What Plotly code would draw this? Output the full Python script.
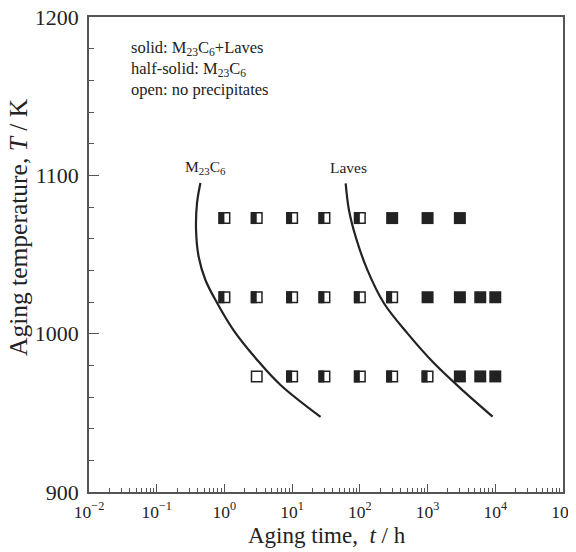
import plotly.graph_objects as go

# ---------------- data ----------------
T_1073, T_1023, T_973 = 1073, 1023, 973

solid_t = [300, 1000, 3000, 1000, 3000, 6000, 10000, 3000, 6000, 10000]
solid_T = [T_1073] * 3 + [T_1023] * 4 + [T_973] * 3

half_t = [1, 3, 10, 30, 100, 1, 3, 10, 30, 100, 300, 10, 30, 100, 300, 1000]
half_T = [T_1073] * 5 + [T_1023] * 6 + [T_973] * 5

open_t = [3]
open_T = [T_973]

m23_t = [0.442, 0.394, 0.381, 0.417, 0.524, 0.780, 1.36, 3.05, 6.74, 26.3]
m23_T = [1095.2, 1082.6, 1065.5, 1048.4, 1033.9, 1019.4, 1002.3, 983.4, 967.6, 947.4]

laves_t = [61.7, 69.0, 86.7, 129, 227, 505, 1248, 3467, 9120]
laves_T = [1094.9, 1078.1, 1061.2, 1040.3, 1019.2, 1000.2, 981.3, 963.4, 947.6]

x_exponents = [-2, -1, 0, 1, 2, 3, 4, 5]
x_tickvals = [10.0 ** e for e in x_exponents]
x_ticktext = ["10<sup>%s</sup>" % (str(e).replace("-", "\u2212")) for e in x_exponents]
x_minor = [m * 10.0 ** e for e in x_exponents[:-1] for m in range(2, 10)]

# ---------------- layout constants ----------------
OFF = 8  # page body margin of the html page
W, H = 576 - OFF, 552 - OFF
ML, MR, MT, MB = 89 - OFF, 13, 17 - OFF, 60
PW = W - ML - MR
PH = H - MT - MB
FONT = "Liberation Serif"
INK = "#222222"
AX = "#555555"

def px(x):  # screen pixel -> paper
    return (x - OFF - ML) / PW

def py(y):
    return (H - MB - (y - OFF)) / PH

XR = [-2, 5]
shift = 3.0 / PW * (XR[1] - XR[0])  # 3-pixel shift for the filled half

fig = go.Figure()

# curves
fig.add_trace(go.Scatter(x=m23_t, y=m23_T, mode="lines",
                         line=dict(color=INK, width=2.2, shape="spline", smoothing=1.0),
                         hoverinfo="skip", showlegend=False))
fig.add_trace(go.Scatter(x=laves_t, y=laves_T, mode="lines",
                         line=dict(color=INK, width=2.2, shape="spline", smoothing=1.0),
                         hoverinfo="skip", showlegend=False))

# solid markers
fig.add_trace(go.Scatter(x=solid_t, y=solid_T, mode="markers",
                         marker=dict(symbol="square", size=12, color=INK,
                                     line=dict(width=0)),
                         showlegend=False))
# half-solid base (white square w/ border)
fig.add_trace(go.Scatter(x=half_t, y=half_T, mode="markers",
                         marker=dict(symbol="square", size=10.5, color="white",
                                     line=dict(width=1.5, color=INK)),
                         showlegend=False))
# open
fig.add_trace(go.Scatter(x=open_t, y=open_T, mode="markers",
                         marker=dict(symbol="square", size=10.5, color="white",
                                     line=dict(width=1.5, color=INK)),
                         showlegend=False))
# filled left half of half-solid markers (on shifted overlay axis)
fig.add_trace(go.Scatter(x=half_t, y=half_T, mode="markers", xaxis="x2", yaxis="y",
                         marker=dict(symbol="line-ns", size=12 / 1.4,
                                     line=dict(width=6, color=INK)),
                         showlegend=False))

LEG_FS = 16.5
ann_list = []
for text, yy in [("solid: M<sub>23</sub>C<sub>6</sub>+Laves", 48),
                 ("half-solid: M<sub>23</sub>C<sub>6</sub>", 69),
                 ("open: no precipitates", 90)]:
    ann_list.append(dict(text=text, x=px(129), y=py(yy), xref="paper", yref="paper",
                         xanchor="left", yanchor="middle", showarrow=False,
                         font=dict(family=FONT, size=LEG_FS, color=INK)))
ann_list.append(dict(text="M<sub>23</sub>C<sub>6</sub>", x=px(205), y=py(167),
                     xref="paper", yref="paper", showarrow=False,
                     xanchor="center", yanchor="middle",
                     font=dict(family=FONT, size=15.5, color=INK)))
ann_list.append(dict(text="Laves", x=px(348), y=py(167),
                     xref="paper", yref="paper", showarrow=False,
                     xanchor="center", yanchor="middle",
                     font=dict(family=FONT, size=15.5, color=INK)))
ann_list.append(dict(text="Aging time,  <i>t</i> / h", x=px(327), y=py(535),
                     xref="paper", yref="paper", showarrow=False,
                     xanchor="center", yanchor="middle",
                     font=dict(family=FONT, size=23, color=INK)))
ann_list.append(dict(text="Aging temperature, <i>T</i> / K", x=px(18), y=py(227),
                     xref="paper", yref="paper", showarrow=False, textangle=-90,
                     xanchor="center", yanchor="middle",
                     font=dict(family=FONT, size=25.5, color=INK)))

fig.update_layout(
    width=W, height=H,
    margin=dict(l=ML, r=MR, t=MT, b=MB, pad=0, autoexpand=False),
    paper_bgcolor="white", plot_bgcolor="white",
    showlegend=False,
    annotations=ann_list,
    xaxis=dict(type="log", range=XR, showgrid=False, zeroline=False, automargin=False,
               showline=True, linecolor=AX, linewidth=1.5, mirror=True,
               tickmode="array", tickvals=x_tickvals, ticktext=x_ticktext,
               ticks="inside", ticklen=8, tickwidth=1.2, tickcolor=AX,
               ticklabeloverflow="allow", ticklabelstandoff=3,
               tickfont=dict(family=FONT, size=17.5, color=INK),
               minor=dict(tickmode="array", tickvals=x_minor, ticks="inside",
                          ticklen=4, tickwidth=1, tickcolor=AX, showgrid=False)),
    xaxis2=dict(type="log", range=[XR[0] + shift, XR[1] + shift], overlaying="x",
                visible=False, showgrid=False, zeroline=False, automargin=False),
    yaxis=dict(range=[900, 1200], showgrid=False, zeroline=False, automargin=False,
               showline=True, linecolor=AX, linewidth=1.5, mirror=True,
               tickmode="linear", tick0=900, dtick=100,
               ticks="inside", ticklen=10, tickwidth=1.2, tickcolor=AX,
               ticklabeloverflow="allow", ticklabelstandoff=4,
               tickfont=dict(family=FONT, size=22, color=INK),
               minor=dict(dtick=20, ticks="inside", ticklen=5, tickwidth=1,
                          tickcolor=AX, showgrid=False)),
)

fig.write_html("out.html")
